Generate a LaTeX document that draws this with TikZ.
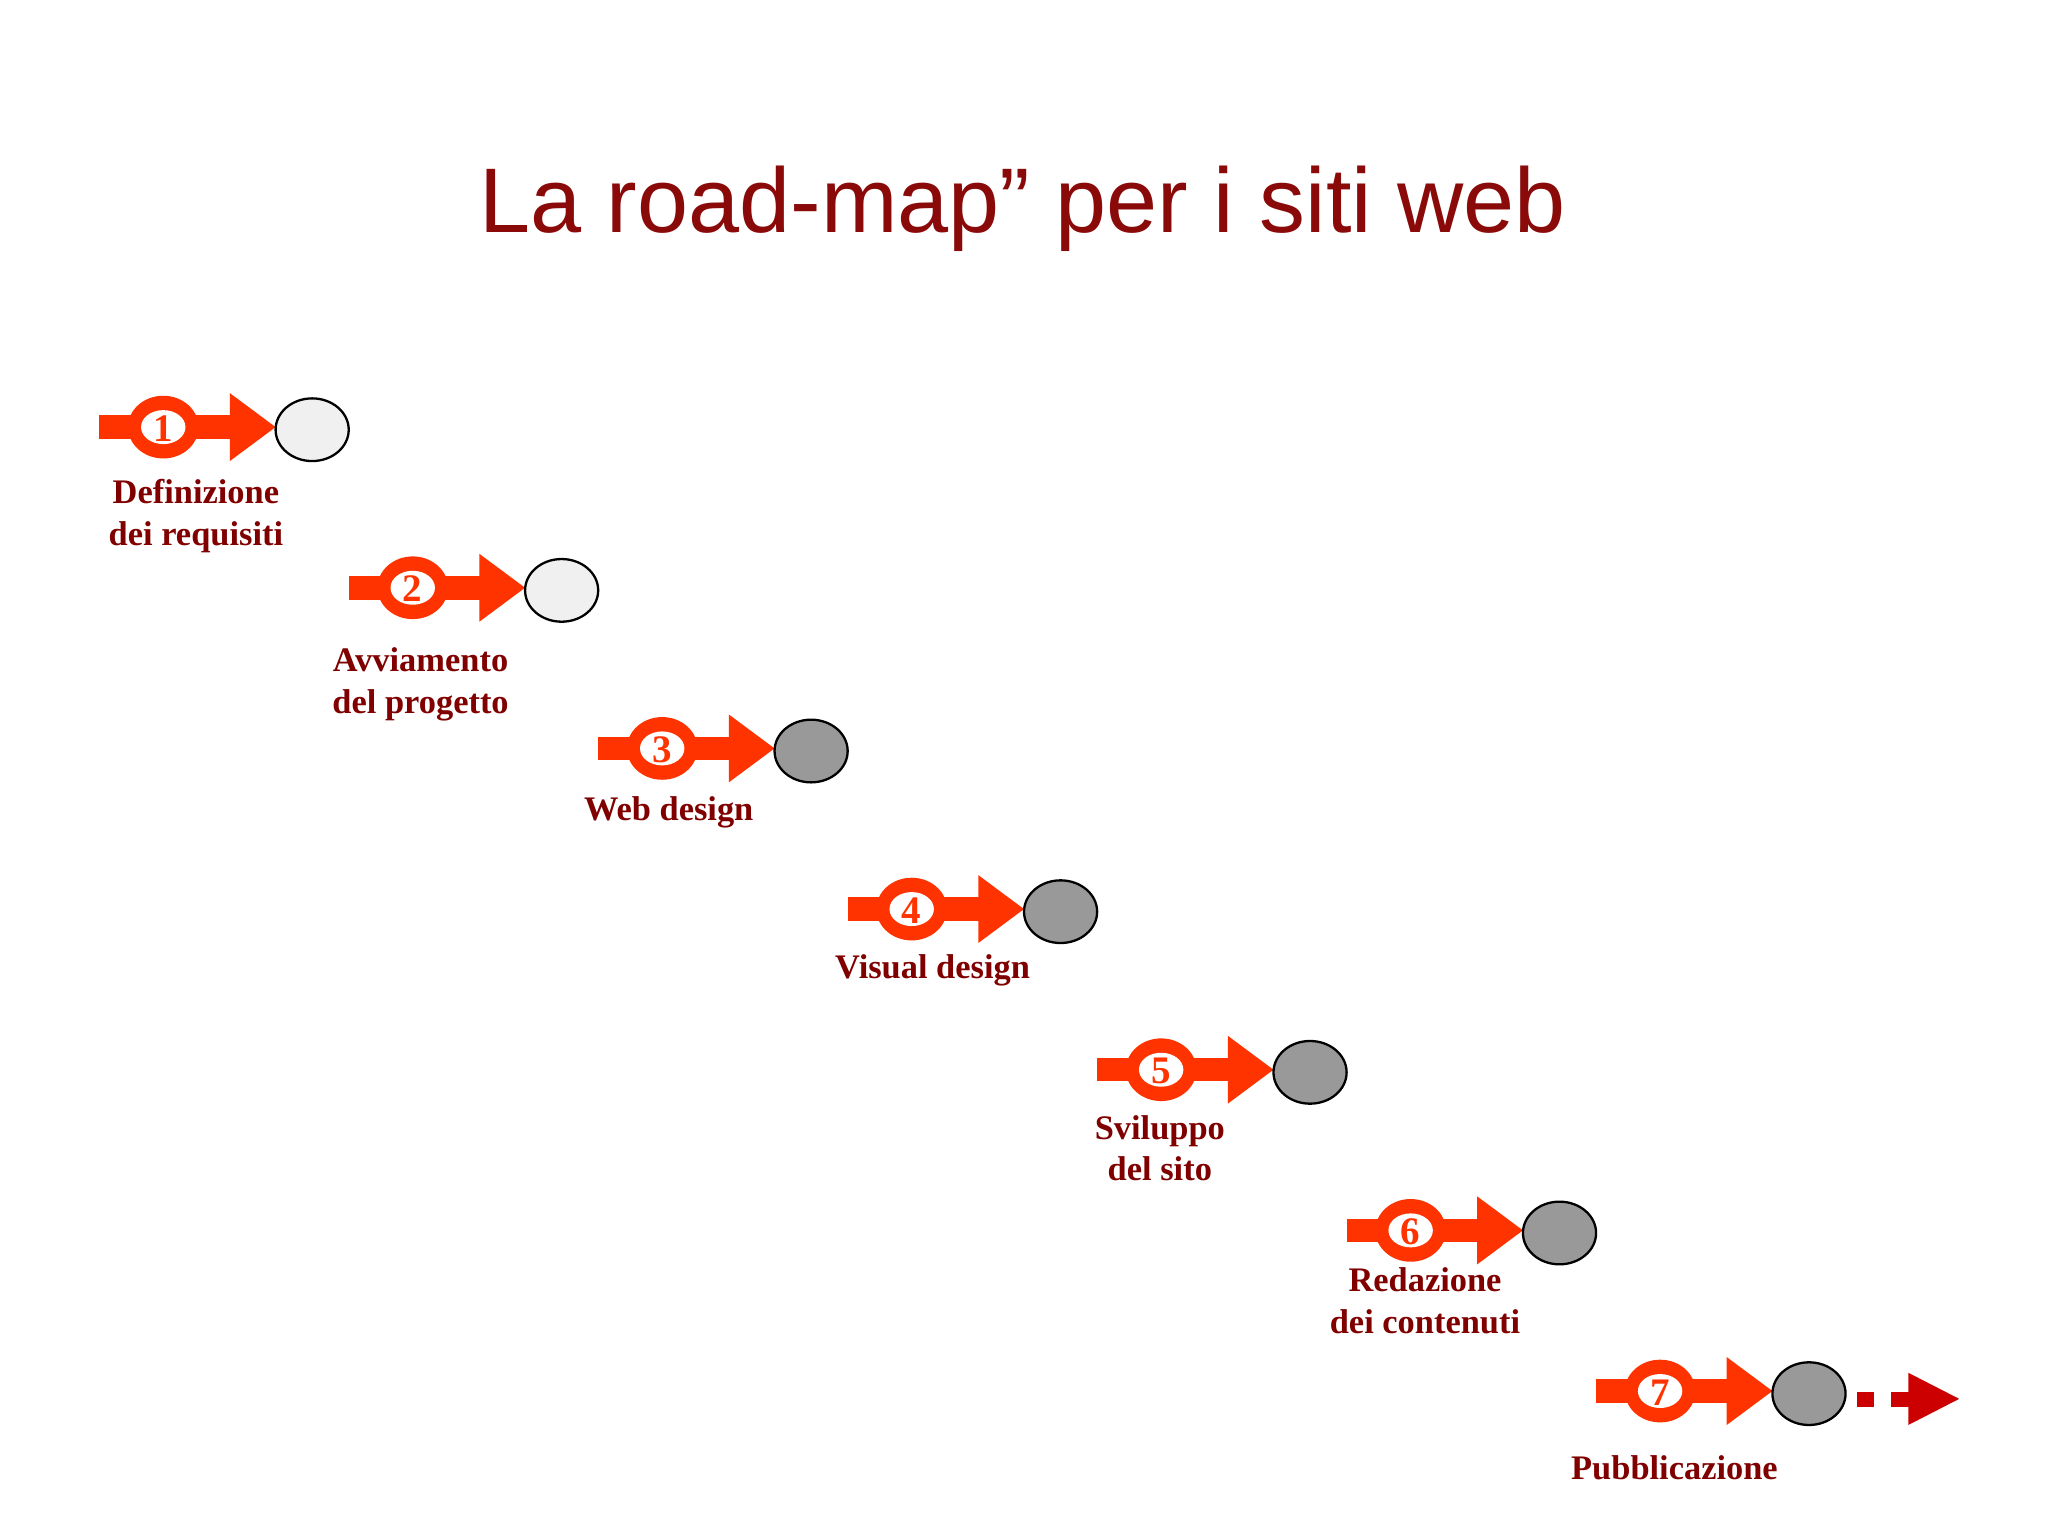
\documentclass[tikz,border=0pt]{standalone}
\usepackage{fontspec}
\setmainfont{Liberation Serif}
\newfontfamily\titlefont{Liberation Sans}
\definecolor{orng}{HTML}{FF3300}
\definecolor{lbl}{HTML}{800000}
\definecolor{ttl}{HTML}{8A0A0A}
\definecolor{dred}{HTML}{CC0000}
\tikzset{
 lbltxt/.style={text=lbl,font=\fontsize{15}{18}\selectfont\bfseries,align=center,inner sep=0pt},
 numtxt/.style={text=orng,font=\fontsize{17}{18}\selectfont\bfseries,inner sep=0pt},
 goal/.style={draw=black,line width=1pt,ellipse,inner sep=0pt,minimum width=1.12cm,minimum height=0.96cm}
}
\usetikzlibrary{shapes.geometric}
\begin{document}
\begin{tikzpicture}[x=0.02cm,y=-0.02cm]
\useasboundingbox (0,0) rectangle (1568,1176);
\fill[white] (0,0) rectangle (1568,1176);
\node[text=ttl,font=\titlefont\fontsize{40}{46}\selectfont] (title) at (783,160) {La road-map” per i siti web};
\foreach \i/\lx/\ly/\txt/\fc in {
 1/150/395/{Definizione\\dei requisiti}/gray!12,
 2/322/524/{Avviamento\\del progetto}/gray!12,
 3/512/622/{Web design}/gray!80,
 4/714/743/{Visual design}/gray!80,
 5/888/879/{Sviluppo\\del sito}/gray!80,
 6/1091/996/{Redazione\\dei contenuti}/gray!80,
 7/1282/1124/{Pubblicazione}/gray!80}{
 \pgfmathsetmacro{\x}{76+191*(\i-1)}
 \pgfmathsetmacro{\y}{327+123*(\i-1)}
 \begin{scope}[shift={(\x,\y)}]
  \fill[orng] (0,-9) rectangle (102,9);
  \fill[orng] (100,-26) -- (135,0) -- (100,26) -- cycle;
  \fill[orng] (49,0) ellipse [x radius=27, y radius=24];
  \fill[white] (49,0) ellipse [x radius=17, y radius=13];
  \node[numtxt] (n\i) at (49,1) {\i};
  \node[goal,fill=\fc] (g\i) at (163,2) {};
 \end{scope}
 \node[lbltxt] (l\i) at (\lx,\ly) {\txt};
}
\fill[dred] (1422,1066) rectangle (1435,1077);
\fill[dred] (1448,1066) rectangle (1462,1077);
\fill[dred] (1461,1051) -- (1500,1071) -- (1461,1091) -- cycle;
\end{tikzpicture}
\end{document}
